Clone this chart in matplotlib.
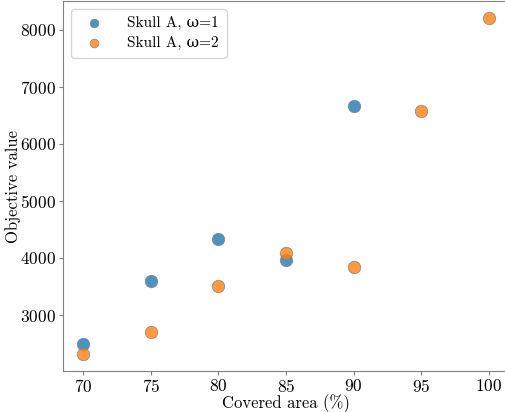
import numpy as np
import matplotlib
matplotlib.use("Agg")
import matplotlib.pyplot as plt

# Computer Modern text, with a serif fallback for the Greek omega
plt.rcParams['font.family'] = ['cmr10', 'DejaVu Serif']
plt.rcParams['mathtext.fontset'] = 'cm'
plt.rcParams['axes.formatter.use_mathtext'] = True

# covered area (%) and objective values per weighting
area_w1 = [70, 75, 80, 85, 90]
obj_w1 = [2495, 3595, 4330, 3960, 6655]
area_w2 = [70, 75, 80, 85, 90, 95, 100]
obj_w2 = [2315, 2700, 3510, 4085, 3845, 6570, 8205]
labels = ['Skull A, ω=1', 'Skull A, ω=2']

fig = plt.figure(figsize=(5.06, 4.12), dpi=100)
ax = fig.add_axes([0.1245, 0.0995, 0.8815, 0.898])

ax.scatter(area_w1, obj_w1, s=80, color='tab:blue', alpha=0.8,
           edgecolor='gray', linewidth=0.6, label=labels[0], zorder=3)
ax.scatter(area_w2, obj_w2, s=80, color='tab:orange', alpha=0.8,
           edgecolor='gray', linewidth=0.6, label=labels[1], zorder=3)

ax.set_xticks([70, 75, 80, 85, 90, 95, 100])
ax.set_yticks([3000, 4000, 5000, 6000, 7000, 8000])
ax.tick_params(labelsize=12.5, color='gray', length=3, pad=2)
for sp in ax.spines.values():
    sp.set_color('gray')

ax.set_xlabel('Covered area (%)', fontsize=12, labelpad=-0.5)
ax.set_ylabel('Objective value', fontsize=12, labelpad=-0.5)

ax.legend(loc='upper left', fontsize=11, framealpha=0.8, borderpad=0.5,
          handletextpad=1.2, markerscale=0.7, labelspacing=0.4)

fig.savefig('out.png', dpi=100)
